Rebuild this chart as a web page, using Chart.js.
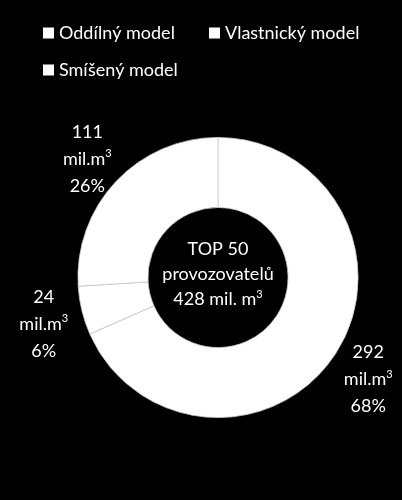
<!DOCTYPE html>
<html><head><meta charset="utf-8">
<script src="https://cdn.jsdelivr.net/npm/chart.js@4"></script>
<style>html,body{margin:0;background:#000}#w{width:402px;height:500px}</style>
</head><body><div id="w"><canvas id="c"></canvas></div>
<script>
const categories = ['Oddílný model', 'Vlastnický model', 'Smíšený model'];
const values = [292, 24, 111];
const percents = ['68%', '6%', '26%'];
const centerLines = ['TOP 50', 'provozovatelů', '428 mil. m'];
const FONT = 'Lato, "Open Sans", sans-serif';

const labelPlugin = {
  id: 'labels',
  afterDatasetsDraw(chart) {
    const ctx = chart.ctx;
    const meta = chart.getDatasetMeta(0);
    ctx.save();
    ctx.fillStyle = '#fff';
    ctx.textBaseline = 'middle';
    // legend
    const legendPos = [[43, 33], [209, 33], [43, 70]];
    categories.forEach((t, i) => {
      const [lx, ly] = legendPos[i];
      ctx.fillRect(lx, ly - 5.5, 11, 11);
      ctx.font = '18px ' + FONT;
      ctx.textAlign = 'left';
      ctx.fillText(t, lx + 16, ly);
    });
    ctx.textAlign = 'center';
    const sup = (txt, x, y, size) => {
      ctx.font = size + 'px ' + FONT;
      const w = ctx.measureText(txt).width;
      ctx.font = Math.round(size * 0.6) + 'px ' + FONT;
      const sw = ctx.measureText('3').width;
      const total = w + sw;
      ctx.textAlign = 'left';
      ctx.font = size + 'px ' + FONT;
      ctx.fillText(txt, x - total / 2, y);
      ctx.font = Math.round(size * 0.6) + 'px ' + FONT;
      ctx.fillText('3', x - total / 2 + w, y - size * 0.3);
      ctx.textAlign = 'center';
    };
    meta.data.forEach((arc, i) => {
      const mid = (arc.startAngle + arc.endAngle) / 2;
      const r = arc.outerRadius * 1.28;
      const x = arc.x + Math.cos(mid) * r;
      const y = arc.y + Math.sin(mid) * r + 4;
      ctx.font = '18px ' + FONT;
      ctx.fillText(String(values[i]), x, y - 27);
      sup('mil.m', x, y, 18);
      ctx.font = '18px ' + FONT;
      ctx.fillText(percents[i], x, y + 27);
    });
    const a = meta.data[0];
    ctx.font = '18px ' + FONT;
    ctx.fillText(centerLines[0], a.x, a.y - 28);
    ctx.fillText(centerLines[1], a.x, a.y - 3);
    sup(centerLines[2], a.x, a.y + 22, 18);
    ctx.restore();
  }
};

new Chart(document.getElementById('c'), {
  type: 'doughnut',
  data: { labels: categories, datasets: [{ data: values, backgroundColor: '#fff', borderColor: '#c8c8c8', borderWidth: 0.8, hoverOffset: 0 }] },
  options: {
    responsive: true, maintainAspectRatio: false, animation: false,
    cutout: '50%',
    layout: { padding: { left: 77, right: 43, top: 137, bottom: 82 } },
    plugins: { tooltip: { enabled: false }, legend: { display: false } }
  },
  plugins: [labelPlugin]
});
</script></body></html>
